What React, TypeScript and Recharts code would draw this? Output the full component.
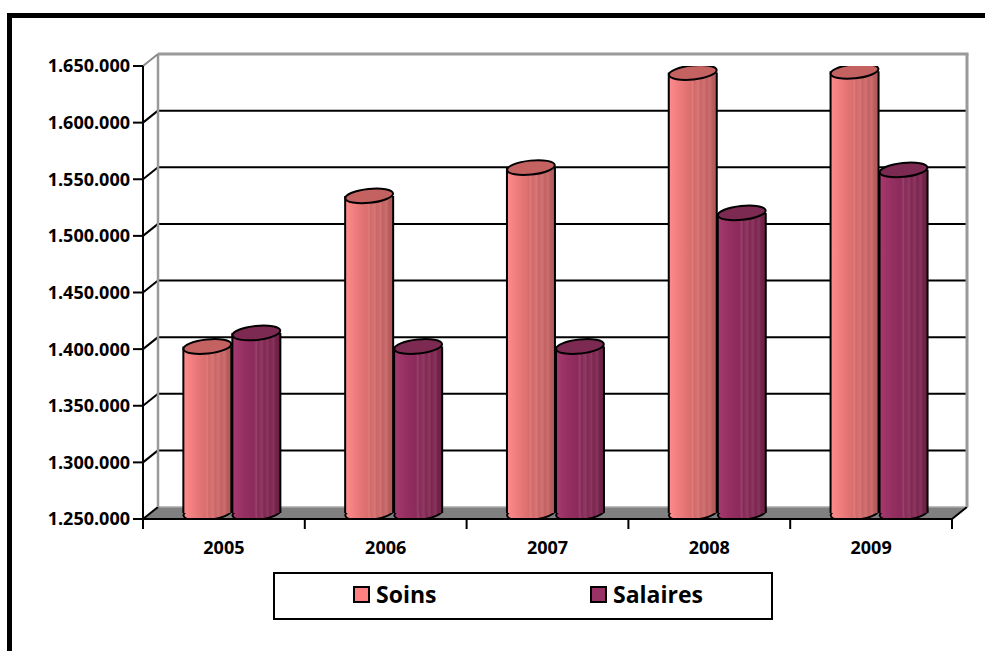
import React from 'react';
import { BarChart, Bar, XAxis, YAxis, CartesianGrid, Legend } from 'recharts';

const years = ['2005', '2006', '2007', '2008', '2009'];
const soins = [1397000, 1530000, 1555000, 1639000, 1640000];
const salaires = [1409000, 1397000, 1397000, 1515000, 1553000];
const yTicks = [1250000, 1300000, 1350000, 1400000, 1450000, 1500000, 1550000, 1600000, 1650000];
const seriesNames = ['Soins', 'Salaires'];
const seriesColors = ['#FF8080', '#993366'];

const data = years.map((y, i) => ({ year: y, Soins: soins[i], Salaires: salaires[i] }));

const DX = 15;
const DY = 12;
const FONT = '"Open Sans", Lato, sans-serif';
const WEIGHT = 700;

const fmt = (v: number) => String(v).replace(/\B(?=(\d{3})+(?!\d))/g, '.');

const gridLine = (p: any) => {
  const { x1, y1, x2, y, height, key } = p;
  const top = y;
  const bottom = y + height;
  if (Math.abs(y1 - bottom) < 0.5) {
    return (
      <g key={key}>
        <polygon
          points={`${x1},${y1} ${x1 + DX},${y1 - DY} ${x2 + DX},${y1 - DY} ${x2},${y1}`}
          fill="#808080"
        />
        <line x1={x1 + DX} y1={y1 - DY} x2={x2 + DX} y2={y1 - DY} stroke="#a8a8a8" strokeWidth={1.5} />
        <line x1={x1} y1={y1} x2={x1 + DX} y2={y1 - DY} stroke="#000" strokeWidth={2} />
        <line x1={x2} y1={y1} x2={x2 + DX} y2={y1 - DY} stroke="#000" strokeWidth={2} />
      </g>
    );
  }
  if (Math.abs(y1 - top) < 0.5) {
    return (
      <g key={key}>
        <line x1={x1 + DX} y1={y1 - DY} x2={x1 + DX} y2={bottom - DY} stroke="#9a9a9a" strokeWidth={2.5} />
        <line x1={x2 + DX} y1={y1 - DY} x2={x2 + DX} y2={bottom - DY} stroke="#9a9a9a" strokeWidth={3} />
        <line x1={x1 + DX} y1={y1 - DY} x2={x2 + DX + 1.5} y2={y1 - DY} stroke="#9a9a9a" strokeWidth={3} />
        <line x1={x1} y1={y1} x2={x1 + DX} y2={y1 - DY} stroke="#8a8a8a" strokeWidth={2} />
      </g>
    );
  }
  return (
    <g key={key}>
      <line x1={x1 + DX} y1={y1 - DY} x2={x2 + DX} y2={y1 - DY} stroke="#000" strokeWidth={2} />
      <line x1={x1} y1={y1} x2={x1 + DX} y2={y1 - DY} stroke="#000" strokeWidth={2} />
    </g>
  );
};

const gradStops: Record<string, [number, string][]> = {
  soins: [
    [0, '#FF8C8C'], [0.25, '#EC7A7A'], [0.45, '#DA6E6E'], [0.5, '#E07A7A'], [0.53, '#D06A6A'],
    [0.62, '#D87676'], [0.66, '#C86666'], [0.74, '#D27272'], [0.78, '#C26262'], [0.86, '#CC6E6E'],
    [0.9, '#BA5E5E'], [1, '#AE5858'],
  ],
  salaires: [
    [0, '#A63A6E'], [0.25, '#952F62'], [0.45, '#8B2B5B'], [0.5, '#99406C'], [0.53, '#852A57'],
    [0.62, '#913A66'], [0.66, '#80284F'], [0.74, '#8D3862'], [0.78, '#7A264E'], [0.86, '#88345E'],
    [0.9, '#742449'], [1, '#6A2044'],
  ],
};

const makeCyl = (kind: 'soins' | 'salaires', topFill: string) => (p: any) => {
  const { x, y, width, height, index } = p;
  if (width == null || height == null) return <g />;
  const gid = `g-${kind}-${index}`;
  const rx = width / 2 - 0.5;
  const cx = x + width / 2 + DX / 2;
  const ty = y - DY / 2;
  const by = y + height - DY / 2;
  const ry = 7;
  const rot = -6;
  return (
    <g>
      <defs>
        <linearGradient id={gid} x1="0" y1="0" x2="1" y2="0">
          {gradStops[kind].map(([o, c], i) => (
            <stop key={i} offset={o} stopColor={c} />
          ))}
        </linearGradient>
      </defs>
      <ellipse cx={cx} cy={by} rx={rx} ry={ry} transform={`rotate(${rot} ${cx} ${by})`} fill={`url(#${gid})`} stroke="#000" strokeWidth={2} />
      <rect x={cx - rx} y={ty} width={2 * rx} height={Math.max(0, by - ty)} fill={`url(#${gid})`} />
      <line x1={cx - rx} y1={ty} x2={cx - rx} y2={by} stroke="#000" strokeWidth={2} />
      <line x1={cx + rx} y1={ty} x2={cx + rx} y2={by} stroke="#000" strokeWidth={2} />
      <ellipse cx={cx} cy={ty} rx={rx} ry={ry} transform={`rotate(${rot} ${cx} ${ty})`} fill={topFill} stroke="#000" strokeWidth={2} />
    </g>
  );
};

const XTick = (p: any) => {
  const { x, y, payload, index } = p;
  const half = payload && payload.offset ? payload.offset : 0;
  return (
    <g>
      <line x1={x - half} y1={y} x2={x - half} y2={y + 10} stroke="#000" strokeWidth={2} />
      {index === years.length - 1 && (
        <line x1={x + half} y1={y} x2={x + half} y2={y + 10} stroke="#000" strokeWidth={2} />
      )}
      <text x={x} y={y + 35} textAnchor="middle" fill="#000" fontSize={18} fontWeight={WEIGHT} fontFamily={FONT}>
        {payload.value}
      </text>
    </g>
  );
};

const LegendBox = (props: any) => {
  const payload = [...(props.payload || [])].sort(
    (a: any, b: any) => seriesNames.indexOf(a.value) - seriesNames.indexOf(b.value)
  );
  const lefts = [78, 315];
  return (
    <div
      style={{
        boxSizing: 'border-box',
        width: 500,
        height: 48,
        border: '2.5px solid #000',
        background: '#fff',
        position: 'relative',
        fontFamily: FONT,
      }}
    >
      {payload.map((e: any, i: number) => (
        <div
          key={e.value}
          style={{ position: 'absolute', left: lefts[i], top: 0, height: '100%', display: 'flex', alignItems: 'center', marginTop: -2 }}
        >
          <span
            style={{
              display: 'inline-block',
              width: 17,
              height: 17,
              boxSizing: 'border-box',
              border: '2px solid #000',
              background: e.color,
              marginRight: 6,
            }}
          />
          <span style={{ fontSize: 23, fontWeight: WEIGHT, color: '#000', lineHeight: '24px' }}>{e.value}</span>
        </div>
      ))}
    </div>
  );
};

export default function App() {
  return (
    <div style={{ position: 'absolute', left: 0, top: 0, width: 985, height: 651, overflow: 'hidden', background: '#fff' }}>
      <div
        style={{
          position: 'absolute',
          left: 7,
          top: 13,
          width: 1200,
          height: 900,
          border: '5px solid #000',
          boxSizing: 'border-box',
        }}
      />
      <div style={{ position: 'absolute', left: 0, top: 0 }}>
        <BarChart
          width={985}
          height={651}
          data={data}
          margin={{ top: 66, right: 33, left: 0, bottom: 92 }}
          barCategoryGap="20%"
          barGap={0}
        >
          <CartesianGrid horizontal={gridLine} vertical={false} stroke="#000" />
          <XAxis
            dataKey="year"
            height={40}
            axisLine={{ stroke: '#000', strokeWidth: 2 }}
            tickLine={false}
            tickSize={0}
            tickMargin={0}
            tick={<XTick />}
            interval={0}
          />
          <YAxis
            width={143}
            domain={[yTicks[0], yTicks[yTicks.length - 1]]}
            ticks={yTicks}
            interval={0}
            allowDataOverflow
            tickFormatter={fmt}
            axisLine={{ stroke: '#000', strokeWidth: 2 }}
            tickLine={{ stroke: '#000', strokeWidth: 2 }}
            tickSize={10}
            tickMargin={3}
            tick={{ fill: '#000', fontSize: 18, fontWeight: WEIGHT, fontFamily: FONT }}
          />
          <Legend
            layout="horizontal"
            verticalAlign="middle"
            align="center"
            itemSorter={null as any}
            content={<LegendBox />}
            wrapperStyle={{ left: 273, top: 572, width: 500, height: 48 }}
          />
          <Bar dataKey="Soins" name={seriesNames[0]} fill={seriesColors[0]} isAnimationActive={false} shape={makeCyl('soins', '#C46262')} />
          <Bar dataKey="Salaires" name={seriesNames[1]} fill={seriesColors[1]} isAnimationActive={false} shape={makeCyl('salaires', '#7C2A52')} />
        </BarChart>
      </div>
    </div>
  );
}
